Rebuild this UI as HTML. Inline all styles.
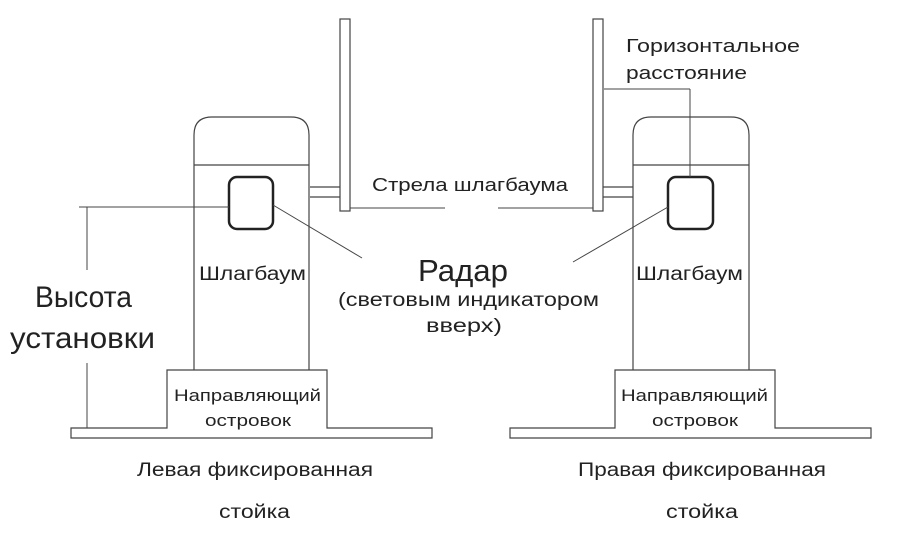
<!DOCTYPE html>
<html><head><meta charset="utf-8"><style>
html,body{margin:0;padding:0;background:#fff;}
svg{display:block;}
text{font-family:"Liberation Sans","DejaVu Sans",sans-serif;fill:#222;}
</style></head><body>
<svg width="902" height="536" viewBox="0 0 902 536" xmlns="http://www.w3.org/2000/svg">
<g fill="none" stroke="#444" stroke-width="1.2">
<path d="M194 370 V135 Q194 117 212 117 H291 Q309 117 309 135 V370"/>
<line x1="194" y1="165" x2="309" y2="165"/>
<path d="M71 438 V428 H167 V370 H327 V428 H432 V438 Z"/>
<rect x="340" y="19" width="10" height="192"/>
<line x1="310" y1="187" x2="340" y2="187"/>
<line x1="310" y1="197" x2="340" y2="197"/>
<rect x="229" y="177" width="44" height="52" rx="8" stroke="#222" stroke-width="2.5"/>
<line x1="79" y1="207" x2="229" y2="207" stroke-width="1"/>
<line x1="87" y1="207" x2="87" y2="270" stroke-width="1"/>
<line x1="87" y1="363" x2="87" y2="428" stroke-width="1"/>
<line x1="273" y1="205" x2="362" y2="258" stroke-width="1"/>
<line x1="350" y1="208" x2="445" y2="208" stroke-width="1"/>
<path d="M633 370 V135 Q633 117 651 117 H731 Q749 117 749 135 V370"/>
<line x1="633" y1="165" x2="749" y2="165"/>
<path d="M510 438 V428 H615 V370 H775 V428 H871 V438 Z"/>
<rect x="593" y="19" width="10" height="192"/>
<line x1="603" y1="187" x2="633" y2="187"/>
<line x1="603" y1="197" x2="633" y2="197"/>
<rect x="668" y="177" width="45" height="52" rx="8" stroke="#222" stroke-width="2.5"/>
<line x1="604" y1="89" x2="690" y2="89" stroke-width="1"/>
<line x1="690" y1="89" x2="690" y2="177" stroke-width="1"/>
<line x1="668" y1="207" x2="573" y2="262" stroke-width="1"/>
<line x1="498" y1="208" x2="593" y2="208" stroke-width="1"/>
</g>
<g>
<text x="372" y="191" font-size="18" textLength="196" lengthAdjust="spacingAndGlyphs">Стрела шлагбаума</text>
<text x="418" y="281" font-size="31" textLength="90" lengthAdjust="spacingAndGlyphs">Радар</text>
<text x="338" y="306" font-size="19" textLength="261" lengthAdjust="spacingAndGlyphs">(световым индикатором</text>
<text x="426" y="332" font-size="19" textLength="76" lengthAdjust="spacingAndGlyphs">вверх)</text>
<text x="35" y="307" font-size="30" textLength="97" lengthAdjust="spacingAndGlyphs">Высота</text>
<text x="10" y="348" font-size="30" textLength="145" lengthAdjust="spacingAndGlyphs">установки</text>
<text x="199" y="280" font-size="19" textLength="107" lengthAdjust="spacingAndGlyphs">Шлагбаум</text>
<text x="636" y="280" font-size="19" textLength="107" lengthAdjust="spacingAndGlyphs">Шлагбаум</text>
<text x="174" y="401" font-size="17" textLength="147" lengthAdjust="spacingAndGlyphs">Направляющий</text>
<text x="205" y="426" font-size="17" textLength="86" lengthAdjust="spacingAndGlyphs">островок</text>
<text x="621" y="401" font-size="17" textLength="147" lengthAdjust="spacingAndGlyphs">Направляющий</text>
<text x="652" y="426" font-size="17" textLength="86" lengthAdjust="spacingAndGlyphs">островок</text>
<text x="137" y="476" font-size="19" textLength="236" lengthAdjust="spacingAndGlyphs">Левая фиксированная</text>
<text x="219" y="518" font-size="19" textLength="71" lengthAdjust="spacingAndGlyphs">стойка</text>
<text x="578" y="476" font-size="19" textLength="248" lengthAdjust="spacingAndGlyphs">Правая фиксированная</text>
<text x="666" y="518" font-size="19" textLength="72" lengthAdjust="spacingAndGlyphs">стойка</text>
<text x="626" y="52" font-size="18" textLength="174" lengthAdjust="spacingAndGlyphs">Горизонтальное</text>
<text x="626" y="79" font-size="18" textLength="121" lengthAdjust="spacingAndGlyphs">расстояние</text>
</g>
</svg>
</body></html>
